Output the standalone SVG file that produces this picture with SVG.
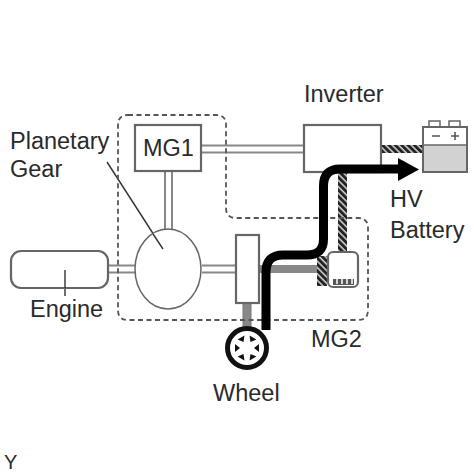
<svg xmlns="http://www.w3.org/2000/svg" width="474" height="474" viewBox="0 0 474 474">
<defs>
<style>
text{font-family:"Liberation Sans",Arial,sans-serif;font-size:23.500px;fill:#2a2a2a}
.box{fill:#fff;stroke:#666;stroke-width:2.200}
.rail{fill:none;stroke:#888;stroke-width:2}
.dash{fill:none;stroke:#555;stroke-width:1.800;stroke-dasharray:5 3.500}
</style>
<pattern id="hatch" width="4.500" height="4.500" patternUnits="userSpaceOnUse" patternTransform="rotate(45)">
<rect width="4.500" height="4.500" fill="#222"/><rect width="4.500" height="1.600" fill="#ccc"/>
</pattern>
</defs>
<rect width="474" height="474" fill="#fff"/>
<g id="connectors">
<path class="rail" d="M201 145.500H304M201 152.500H304M165 171V229M172 171V229M108 265.500H135M108 272.500H135M202 265.500H236M202 272.500H236"/>
<rect x="381" y="145" width="42" height="8" fill="url(#hatch)"/>
<rect x="338" y="172" width="9" height="81" fill="url(#hatch)"/>
<rect x="260" y="265" width="60" height="8" fill="#888"/>
<rect x="243" y="303" width="8" height="25" fill="#888" stroke="#777"/>
<path d="M107 162L163 249" stroke="#333" stroke-width="1.400" fill="none"/>
<path d="M65 270V296" stroke="#333" stroke-width="1.400" fill="none"/>
</g>
<path class="dash" d="M128 115H216Q226 115 226 125V208Q226 218 236 218H358Q368 218 368 228V310Q368 320 358 320H128Q118 320 118 310V125Q118 115 128 115Z"/>
<g id="engine"><rect class="box" x="11" y="251" width="97" height="37" rx="10"/><path d="M65 270V288" stroke="#333" stroke-width="1.400"/><text x="30" y="317">Engine</text></g>
<g id="mg1"><rect class="box" x="135" y="125" width="66" height="46"/><text x="143" y="156">MG1</text></g>
<g id="planetary-gear"><ellipse cx="168" cy="269" rx="33" ry="40" fill="#fff" stroke="#666" stroke-width="1.500"/><path d="M153 234L163 249" stroke="#333" stroke-width="1.400"/><text x="10" y="149">Planetary</text><text x="10" y="177">Gear</text></g>
<g id="inverter"><rect class="box" x="304" y="125" width="77" height="47"/><text x="304" y="102">Inverter</text></g>
<g id="hv-battery">
<rect x="429" y="121" width="11" height="6" fill="#fff" stroke="#666" stroke-width="1.500"/>
<rect x="449" y="121" width="11" height="6" fill="#fff" stroke="#666" stroke-width="1.500"/>
<rect x="423" y="127" width="44" height="45" fill="#fff"/>
<rect x="423" y="145" width="44" height="27" fill="#d2d2d2"/>
<rect x="423" y="127" width="44" height="45" fill="none" stroke="#666" stroke-width="2"/>
<path d="M423 145H467" stroke="#666" stroke-width="1.500"/>
<path d="M432 136H440M451 136H459M455 132V140" stroke="#555" stroke-width="1.600" fill="none"/>
<text x="390" y="207">HV</text><text x="390" y="238">Battery</text>
</g>
<g id="gear-box"><rect class="box" x="236" y="235" width="23" height="68"/></g>
<g id="mg2">
<rect x="317" y="256" width="10" height="30" fill="url(#hatch)"/>
<rect x="328" y="252" width="30" height="35" rx="5" fill="#fff" stroke="#666" stroke-width="2.200"/>
<path d="M333 279H354V285H333Z" fill="#555"/>
<path d="M337 277V284M342 277V284M347 277V284M352 277V284" stroke="#fff" stroke-width="1.500"/>
<text x="311" y="347">MG2</text>
</g>
<g id="wheel">
<circle cx="247" cy="348" r="19.500" fill="#fff" stroke="#111" stroke-width="5"/>
<g fill="#111">
<path d="M247 341L243 336H251Z" transform="rotate(-30 247 348)"/>
<path d="M247 341L243 336H251Z" transform="rotate(30 247 348)"/>
<path d="M247 341L243 336H251Z" transform="rotate(90 247 348)"/>
<path d="M247 341L243 336H251Z" transform="rotate(150 247 348)"/>
<path d="M247 341L243 336H251Z" transform="rotate(210 247 348)"/>
<path d="M247 341L243 336H251Z" transform="rotate(270 247 348)"/>
</g>
<text x="213" y="401">Wheel</text>
</g>
<g id="power-flow">
<path d="M266 330V272Q266 255 283 255H307Q323.500 255 323.500 239V186Q323.500 169 340 169H400" fill="none" stroke="#000" stroke-width="9"/>
<path d="M398 158L419 169.500L398 181Z" fill="#000"/>
</g>
<text x="4" y="469" style="font-size:20px">Y</text>
</svg>
